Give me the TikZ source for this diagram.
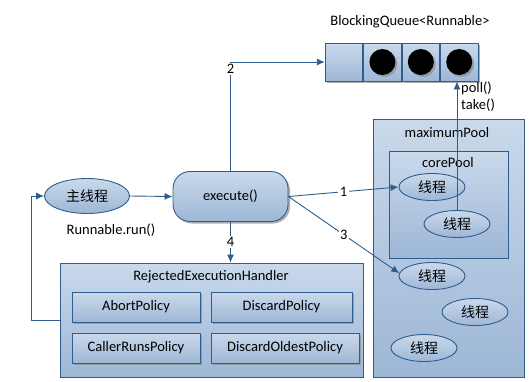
\documentclass[tikz,border=0pt]{standalone}
\usepackage{fontspec}
\setmainfont{Carlito}
\newfontfamily\cjk{Noto Sans CJK SC}
\usetikzlibrary{arrows.meta,calc,shapes.geometric,shadows}
\definecolor{inkblue}{HTML}{2F5D8E}
\definecolor{paleblue}{HTML}{CAD9EB}
\definecolor{midblue}{HTML}{9DB7D6}
\newcommand{\thr}{{\cjk 线程}}

\begin{document}
\begin{tikzpicture}[x=1pt,y=-1pt,>={Latex[length=8pt,width=7pt]},
 font=\fontsize{14.5}{17}\selectfont,
 bluebox/.style={draw=inkblue,line width=.9pt,top color=paleblue,bottom color=midblue,inner sep=0pt},
 shadowed/.style={drop shadow={shadow xshift=2pt,shadow yshift=-2pt,fill=black!45,opacity=.7}},
 cell/.style={bluebox,shadowed,minimum width=37.5pt,minimum height=38pt},
 ball/.style={circle,fill=black,inner sep=0pt,minimum size=26pt,shadowed},
 thread/.style={bluebox,ellipse,minimum width=66pt,minimum height=27pt,font=\cjk\fontsize{14}{16}\selectfont},
 policy/.style={bluebox,shadowed,minimum height=30pt},
 flow/.style={->,draw=inkblue,line width=.9pt},
 tag/.style={fill=white,inner sep=1.5pt}]
 \useasboundingbox (0,0) rectangle (529,381);

 % the queue
 \node (qtitle) at (410,22) {BlockingQueue\textless Runnable\textgreater};
 \node[cell] (q1) at (344,62) {};
 \node[cell,anchor=west] (q2) at (q1.east) {};
 \node[cell,anchor=west] (q3) at (q2.east) {};
 \node[cell,anchor=west] (q4) at (q3.east) {};
 \foreach \i in {2,3,4}
  \node[ball] (b\i) at (q\i) {};

 % pools
 \node[bluebox,minimum width=151pt,minimum height=258pt] (maxpool) at (448.5,248) {};
 \node (maxlbl) at (447,133) {maximumPool};
 \node[bluebox,minimum width=119pt,minimum height=107pt] (corepool) at (448.5,204.5) {};
 \node (corelbl) at (448,163) {corePool};
 \node[thread] (t1) at (432,187) {\thr};
 \node[thread] (t2) at (457,224) {\thr};
 \node[thread] (t3) at (432,276) {\thr};
 \node[thread] (t4) at (475,312) {\thr};
 \node[thread] (t5) at (424,348) {\thr};

 % caller side
 \node[thread,minimum width=85pt,minimum height=35pt] (main) at (87,196) {{\cjk 主线程}};
 \node (runlbl) at (111,230) {Runnable.run()};
 \node[bluebox,shadowed,rounded corners=17pt,minimum width=115pt,minimum height=50pt] (exec) at (230.5,196.5) {execute()};

 % rejection policies
 \node[bluebox,minimum width=303pt,minimum height=114pt] (handler) at (211.5,320) {};
 \node (rejlbl) at (211,277) {RejectedExecutionHandler};
 \node[policy,minimum width=128pt] (abort) at (136,307) {AbortPolicy};
 \node[policy,minimum width=141pt] (discard) at (281.5,307) {DiscardPolicy};
 \node[policy,minimum width=128pt] (callerruns) at (136,348) {CallerRunsPolicy};
 \node[policy,minimum width=148pt] (oldest) at (285,348) {DiscardOldestPolicy};

 % connectors
 \draw[flow] (main.east) -- (exec.west);
 \draw[flow] (exec.north) |- node[tag,pos=.5,yshift=-7pt] {2} (q1.west);
 \draw[flow] (exec.east) -- node[tag] {1} (t1.west);
 \draw[flow] (exec.east) -- node[tag] {3} (t3.175);
 \draw[flow] (exec.south) -- node[tag] {4} (exec.south |- handler.north);
 \coordinate (loopturn) at (31,320);
 \draw[flow] (handler.west) -- (loopturn) |- (main.west);
 \draw[flow] (t2.north) -- (t2.north |- q4.south);
 \node[anchor=west,align=left,inner sep=0pt] (polllbl) at (461,97) {poll()\\take()};
\end{tikzpicture}
\end{document}
